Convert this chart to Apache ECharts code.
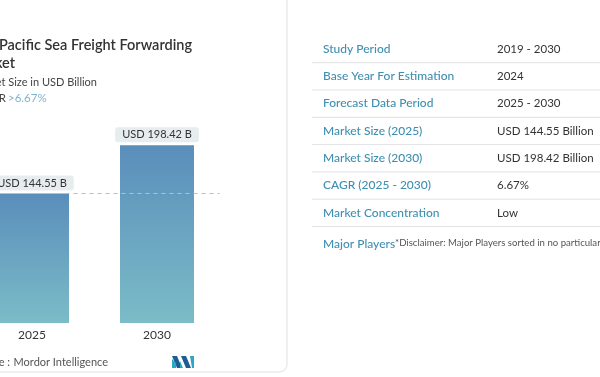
<!DOCTYPE html>
<html>
<head>
<meta charset="utf-8">
<script src="https://cdn.jsdelivr.net/npm/echarts@6/dist/echarts.min.js"></script>
<style>
html,body{margin:0;padding:0;background:#fff;}
#chart{width:600px;height:377px;}
</style>
</head>
<body>
<div id="chart"></div>
<script>
var categories = ['2025', '2030'];
var marketSize = [144.55, 198.42];
var baseLine = 144.55;
var tableLabels = ['Study Period', 'Base Year For Estimation', 'Forecast Data Period', 'Market Size (2025)', 'Market Size (2030)', 'CAGR (2025 - 2030)', 'Market Concentration'];
var tableValues = ['2019 - 2030', '2024', '2025 - 2030', 'USD 144.55 Billion', 'USD 198.42 Billion', '6.67%', 'Low'];

var FONT = 'Lato, "Noto Sans", sans-serif';
var chart = echarts.init(document.getElementById('chart'));

var graphics = [
  {type:'rect', shape:{x:-20, y:-20, width:307, height:392, r:8}, style:{fill:'none', stroke:'#ebebeb', lineWidth:1.5}, z:0},
  {type:'text', x:192, y:45, style:{text:'Asia-Pacific Sea Freight Forwarding', font:'600 14.5px ' + FONT, fill:'#333', textAlign:'right', textVerticalAlign:'middle'}},
  {type:'text', x:15, y:63, style:{text:'Market', font:'600 14.5px ' + FONT, fill:'#333', textAlign:'right', textVerticalAlign:'middle'}},
  {type:'text', x:97, y:82, style:{text:'Market Size in USD Billion', font:'11px ' + FONT, fill:'#444', textAlign:'right', textVerticalAlign:'middle'}},
  {type:'text', x:6, y:98, style:{text:'CAGR', font:'11.5px ' + FONT, fill:'#444', textAlign:'right', textVerticalAlign:'middle'}},
  {type:'text', x:8, y:98, style:{text:'>6.67%', font:'11.5px ' + FONT, fill:'#7db4cf', textAlign:'left', textVerticalAlign:'middle'}},
  {type:'text', x:10, y:362, style:{text:'Source :', font:'11px ' + FONT, fill:'#555', textAlign:'right', textVerticalAlign:'middle'}},
  {type:'text', x:108, y:362, style:{text:'Mordor Intelligence', font:'11px ' + FONT, fill:'#555', textAlign:'right', textVerticalAlign:'middle'}},
  // logo
  {type:'polygon', shape:{points:[[172,356],[177,356],[182,368],[177,368]]}, style:{fill:'#1f5c93'}},
  {type:'polygon', shape:{points:[[172,359],[176,363],[176,368],[172,368]]}, style:{fill:'#2aa7c4'}},
  {type:'polygon', shape:{points:[[181,356],[186,356],[191,368],[186,368]]}, style:{fill:'#1f5c93'}},
  {type:'polygon', shape:{points:[[180,361],[183,368],[180,368]]}, style:{fill:'#2aa7c4'}},
  {type:'polygon', shape:{points:[[190,356],[194,356],[194,368],[192,368]]}, style:{fill:'#2aa7c4'}}
];

var rowY0 = 49, rowH = 27.3;
for (var i = 0; i < tableLabels.length; i++) {
  var cy = rowY0 + i * rowH;
  graphics.push({type:'text', x:323, y:cy, style:{text:tableLabels[i], font:'500 12px ' + FONT, fill:'#3f8fb0', textVerticalAlign:'middle'}});
  graphics.push({type:'text', x:497, y:cy, style:{text:tableValues[i], font:'11.5px ' + FONT, fill:'#333', textVerticalAlign:'middle'}});
  graphics.push({type:'line', shape:{x1:312, y1:cy + 13.7, x2:600, y2:cy + 13.7}, style:{stroke:'#e2e2e2', lineWidth:1}});
}
graphics.push({type:'text', x:323, y:244, style:{text:'{a|Major Players}{b|*Disclaimer: Major Players sorted in no particular order}', rich:{a:{font:'500 12px ' + FONT, fill:'#3f8fb0'}, b:{font:'9.6px ' + FONT, fill:'#555', padding:[0,0,2,0]}}, textVerticalAlign:'middle'}});

chart.setOption({
  animation:false,
  backgroundColor:'#fff',
  grid:{left:-30.5, right:380.5, top:99, bottom:54, containLabel:false, outerBoundsMode:'none'},
  xAxis:{type:'category', data:categories, axisLine:{show:false}, axisTick:{show:false},
    axisLabel:{color:'#333', fontSize:12, fontFamily:FONT, margin:6}},
  yAxis:{type:'value', min:0, max:250, show:false, splitLine:{show:false}},
  series:[
    {type:'line', data:[], z:1, silent:true,
      markLine:{silent:true, symbol:'none', label:{show:false},
        lineStyle:{type:[4,4], color:'#b5bfc4', width:1},
        data:[{yAxis:baseLine}]}},
    {type:'bar', data:marketSize, barWidth:74, z:3,
      itemStyle:{color:new echarts.graphic.LinearGradient(0,0,0,1,[{offset:0,color:'#5a8ebb'},{offset:1,color:'#7bbcc7'}])},
      label:{show:true, position:'top', distance:3, formatter:'USD {c} B', color:'#333', fontSize:11, fontFamily:FONT,
        backgroundColor:'#e7ecef', borderRadius:3, padding:[2,7]}}
  ],
  graphic:graphics
});
</script>
</body>
</html>
